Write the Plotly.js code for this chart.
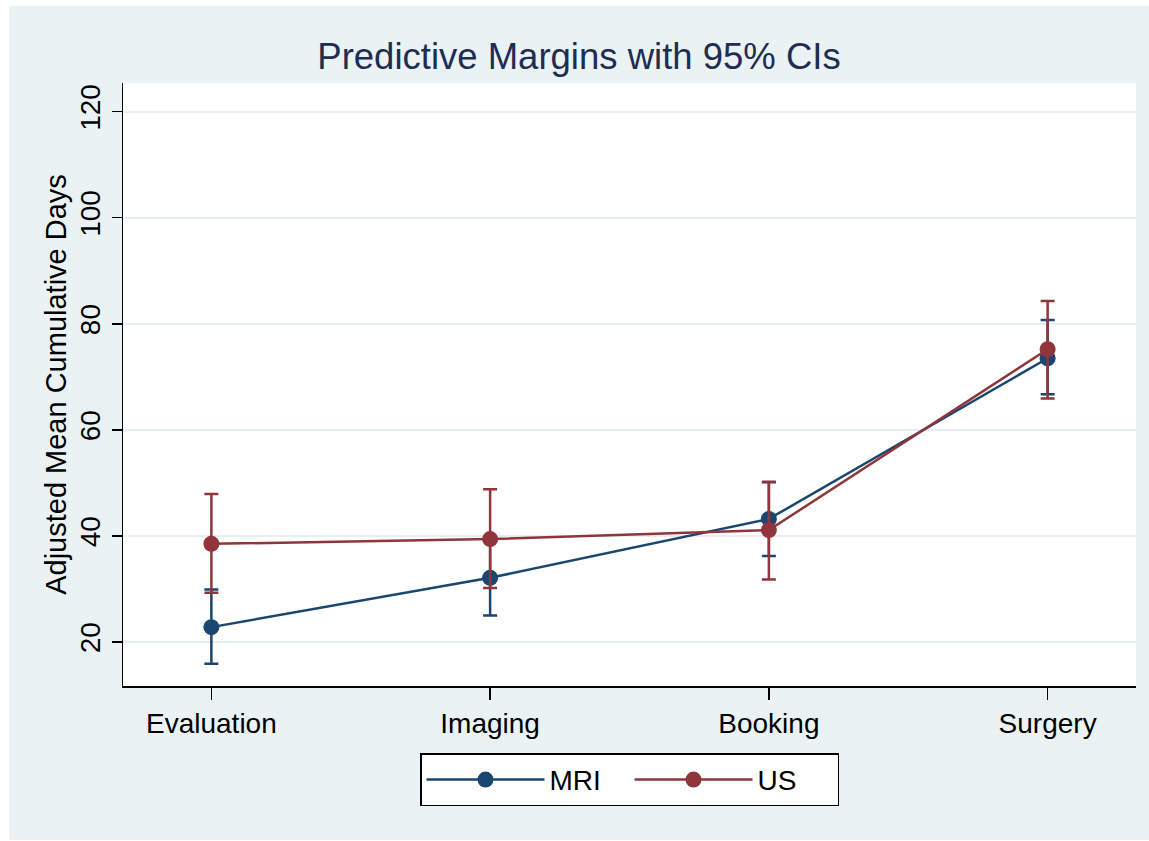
<!DOCTYPE html>
<html>
<head>
<meta charset="utf-8">
<script src="https://cdn.plot.ly/plotly-3.0.1.min.js"></script>
<style>
html, body { margin: 0; padding: 0; background: #ffffff; }
#chart { position: absolute; left: 9px; top: 6px; width: 1140px; height: 834px; }
</style>
</head>
<body>
<div id="chart"></div>
<script>
// ---- Data ----
const categories = ['Evaluation', 'Imaging', 'Booking', 'Surgery'];
const mriMean = [22.8, 32.1, 43.2, 73.5];
const mriLow  = [15.9, 25.0, 36.2, 66.7];
const mriHigh = [29.9, 39.1, 50.1, 80.7];
const usMean  = [38.5, 39.4, 41.1, 75.2];
const usLow   = [29.3, 30.2, 31.8, 65.9];
const usHigh  = [47.9, 48.8, 50.2, 84.3];
const yTicks  = [20, 40, 60, 80, 100, 120];

const MRI_COLOR = '#1a476f';
const US_COLOR = '#90353b';
const FONT = 'Liberation Sans, Arial, sans-serif';

function series(name, mean, lo, hi, color) {
  return {
    type: 'scatter',
    mode: 'lines+markers',
    name: name,
    x: categories,
    y: mean,
    line: { color: color, width: 2.5 },
    marker: { color: color, size: 16 },
    error_y: {
      type: 'data',
      symmetric: false,
      array: hi.map((h, i) => h - mean[i]),
      arrayminus: lo.map((l, i) => mean[i] - l),
      color: color,
      thickness: 2.5,
      width: 7
    }
  };
}

const data = [
  series('MRI', mriMean, mriLow, mriHigh, MRI_COLOR),
  series('US', usMean, usLow, usHigh, US_COLOR)
];

const layout = {
  width: 1140,
  height: 834,
  paper_bgcolor: '#eaf2f3',
  plot_bgcolor: '#ffffff',
  margin: { l: 114.3, r: 13, t: 77, b: 154.3, pad: 0 },
  font: { family: FONT, color: '#000000', size: 28 },
  title: {
    text: 'Predictive Margins with 95% CIs',
    font: { family: FONT, size: 36.5, color: '#1e2d53' },
    x: 0.5, xref: 'container', xanchor: 'center',
    y: 0.94, yref: 'container', yanchor: 'middle'
  },
  xaxis: {
    type: 'category',
    range: [-0.317, 3.317],
    showgrid: false,
    zeroline: false,
    showline: true,
    linecolor: '#000000',
    linewidth: 1.5,
    ticks: 'outside',
    ticklen: 12,
    tickwidth: 1.5,
    tickcolor: '#000000',
    tickfont: { family: FONT, size: 28, color: '#000000' },
    fixedrange: true
  },
  yaxis: {
    range: [11.7, 125.4],
    tickmode: 'array',
    tickvals: yTicks,
    ticktext: yTicks.map(String),
    tickangle: -90,
    showgrid: true,
    gridcolor: '#e6eef1',
    gridwidth: 2,
    zeroline: false,
    showline: true,
    linecolor: '#000000',
    linewidth: 1.5,
    ticks: 'outside',
    ticklen: 10,
    tickwidth: 1.5,
    tickcolor: '#000000',
    tickfont: { family: FONT, size: 28, color: '#000000' },
    title: {
      text: 'Adjusted Mean Cumulative Days',
      font: { family: FONT, size: 29, color: '#000000' },
      standoff: 0
    },
    fixedrange: true
  },
  showlegend: true,
  legend: {
    orientation: 'h',
    x: 0.5, xanchor: 'center', xref: 'paper',
    y: -0.1117, yanchor: 'top', yref: 'paper',
    bgcolor: '#ffffff',
    bordercolor: '#000000',
    borderwidth: 1.5,
    itemwidth: 118,
    entrywidth: 75,
    entrywidthmode: 'pixels',
    font: { family: FONT, size: 28, color: '#000000' },
    itemclick: false,
    itemdoubleclick: false
  }
};

Plotly.newPlot('chart', data, layout, { displayModeBar: false, staticPlot: true });
</script>
</body>
</html>
